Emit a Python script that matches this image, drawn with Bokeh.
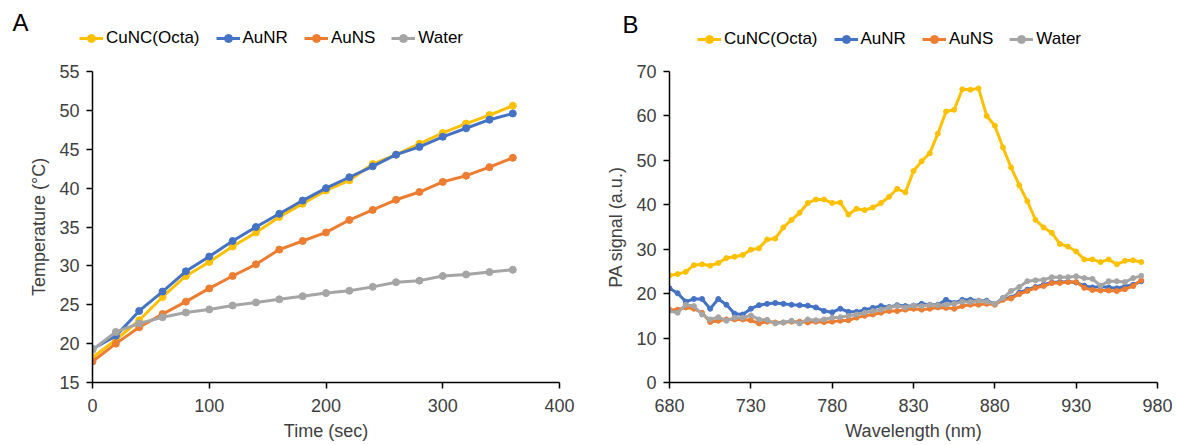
from bokeh.plotting import figure
from bokeh.models import Range1d, Legend, LegendItem, Label, FixedTicker
from bokeh.layouts import row, column
from bokeh.embed import file_html
from bokeh.resources import INLINE

# ---------------- data ----------------
series_names = ["CuNC(Octa)", "AuNR", "AuNS", "Water"]
colors = ["#FFC000", "#4472C4", "#ED7D31", "#A5A5A5"]

time_sec = [0, 20, 40, 60, 80, 100, 120, 140, 160, 180, 200, 220, 240, 260, 280, 300, 320, 340, 360]
temp_cunc = [18.2, 20.5, 23.0, 26.0, 28.7, 30.5, 32.5, 34.3, 36.3, 38.0, 39.7, 41.0, 43.1, 44.3, 45.7, 47.1, 48.3, 49.4, 50.6]
temp_aunr = [19.3, 21.0, 24.2, 26.7, 29.3, 31.2, 33.2, 35.0, 36.7, 38.4, 40.0, 41.4, 42.8, 44.3, 45.3, 46.6, 47.7, 48.8, 49.6]
temp_auns = [17.7, 20.0, 22.1, 23.8, 25.4, 27.1, 28.7, 30.2, 32.1, 33.2, 34.3, 35.9, 37.2, 38.5, 39.5, 40.8, 41.6, 42.7, 43.9]
temp_water = [19.2, 21.5, 22.6, 23.4, 24.0, 24.4, 24.9, 25.3, 25.7, 26.1, 26.5, 26.8, 27.3, 27.9, 28.1, 28.7, 28.9, 29.2, 29.5]

wavelength = list(range(680, 975, 5))
pa_cunc = [24.1, 24.4, 24.9, 26.4, 26.6, 26.3, 26.9, 28.0, 28.3, 28.7, 29.9, 30.2, 32.2, 32.4, 34.9,
           36.6, 38.2, 40.4, 41.2, 41.2, 40.4, 40.5, 37.8, 39.1, 38.8, 39.4, 40.4, 41.8, 43.6, 42.8,
           47.6, 49.8, 51.6, 56.0, 61.0, 61.4, 66.0, 65.9, 66.2, 60.0, 57.8, 52.9, 48.4, 44.4, 40.8,
           36.6, 34.9, 33.7, 31.2, 30.6, 29.5, 27.7, 27.7, 27.1, 27.7, 26.6, 27.4, 27.5, 27.1]
pa_aunr = [21.2, 20.1, 18.2, 18.8, 18.8, 16.6, 18.8, 17.5, 15.5, 15.3, 16.6, 17.4, 17.7, 17.9, 17.7,
           17.5, 17.4, 17.3, 16.9, 16.1, 15.8, 16.6, 15.9, 15.9, 16.4, 16.8, 17.2, 17.0, 17.4, 17.2,
           17.3, 17.7, 17.5, 17.5, 18.6, 17.9, 18.6, 18.6, 18.4, 18.4, 17.7, 19.0, 19.1, 20.2, 20.9,
           21.5, 22.0, 22.5, 22.6, 22.7, 22.5, 21.8, 21.4, 21.6, 21.4, 21.2, 21.6, 22.0, 22.8]
pa_auns = [16.4, 16.4, 16.9, 16.6, 15.7, 13.6, 13.9, 14.2, 14.2, 14.2, 14.0, 13.3, 13.7, 13.5, 13.5,
           13.7, 13.7, 13.5, 13.7, 13.6, 13.7, 13.9, 14.0, 14.6, 15.0, 15.3, 15.7, 16.1, 16.1, 16.4,
           16.6, 16.4, 16.6, 16.9, 16.8, 16.6, 17.2, 17.5, 17.5, 17.7, 17.5, 18.6, 18.9, 19.9, 20.6,
           21.3, 21.7, 22.4, 22.4, 22.6, 22.6, 21.3, 20.8, 20.7, 20.7, 20.6, 21.0, 21.7, 23.0]
pa_water = [16.1, 15.7, 17.5, 17.2, 15.3, 14.2, 14.7, 13.9, 14.6, 14.6, 15.1, 14.2, 14.1, 13.3, 13.5,
            13.9, 13.3, 14.2, 14.0, 14.2, 14.6, 14.7, 15.0, 15.3, 15.7, 16.1, 16.4, 16.9, 17.2, 16.9,
            17.3, 17.2, 17.5, 17.4, 17.5, 17.7, 18.2, 18.1, 18.4, 18.2, 17.7, 19.0, 20.6, 21.5, 22.8,
            23.0, 23.1, 23.7, 23.7, 23.7, 23.9, 23.5, 23.3, 21.8, 22.8, 22.8, 22.6, 23.5, 24.0]

x_ticks_a = [0, 100, 200, 300, 400]
y_ticks_a = [15, 20, 25, 30, 35, 40, 45, 50, 55]
x_ticks_b = [680, 730, 780, 830, 880, 930, 980]
y_ticks_b = [0, 10, 20, 30, 40, 50, 60, 70]

FONT = "Liberation Sans"
TXT = "#404040"
W = 1177
HEADER_H = 50


def style_axes(p):
    for ax in (p.xaxis[0], p.yaxis[0]):
        ax.axis_line_color = "black"
        ax.axis_line_width = 1.5
        ax.major_tick_line_color = "black"
        ax.major_tick_line_width = 1.5
        ax.major_tick_out = 6
        ax.major_tick_in = 0
        ax.minor_tick_line_color = None
        ax.major_label_text_font = FONT
        ax.major_label_text_font_size = "18px"
        ax.major_label_text_color = TXT
        ax.axis_label_text_font = FONT
        ax.axis_label_text_font_size = "18px"
        ax.axis_label_text_font_style = "normal"
        ax.axis_label_text_color = TXT
    p.xaxis.major_label_standoff = 10
    p.yaxis.major_label_standoff = 7
    p.xaxis.axis_label_standoff = 6
    p.yaxis.axis_label_standoff = 7
    p.xgrid.visible = False
    p.ygrid.visible = False
    p.outline_line_color = None


def make_panel(xs, ys_list, lw, ms, x_rng, y_rng, xt, yt, xlabel, ylabel,
               width, height, bl, br, bt, bb):
    p = figure(width=width, height=height, output_backend="svg", toolbar_location=None,
               x_range=Range1d(*x_rng), y_range=Range1d(*y_rng),
               min_border_left=bl, min_border_right=br, min_border_top=bt, min_border_bottom=bb)
    p.xaxis.ticker = FixedTicker(ticks=xt)
    p.yaxis.ticker = FixedTicker(ticks=yt)
    p.xaxis.axis_label = xlabel
    p.yaxis.axis_label = ylabel
    style_axes(p)
    for col, ys in zip(colors, ys_list):
        p.line(xs, ys, line_color=col, line_width=lw)
        p.scatter(xs, ys, size=ms, fill_color=col, line_color=col)
    return p


PANEL_H = 445 - HEADER_H
pa = make_panel(time_sec, [temp_cunc, temp_aunr, temp_auns, temp_water], 3, 7,
                (0, 400), (15, 55), x_ticks_a, y_ticks_a, "Time (sec)", "Temperature (°C)",
                590, PANEL_H, 92, 31, 71 - HEADER_H, 63)
pb = make_panel(wavelength, [pa_cunc, pa_aunr, pa_auns, pa_water], 3, 5,
                (680, 980), (0, 70), x_ticks_b, y_ticks_b, "Wavelength (nm)", "PA signal (a.u.)",
                587, PANEL_H, 79, 20, 61 - HEADER_H, 63)

# ---------------- header: panel letters and legends ----------------
hdr = figure(width=W, height=HEADER_H, output_backend="svg", toolbar_location=None,
             x_range=Range1d(0, 1), y_range=Range1d(0, 1),
             x_axis_type=None, y_axis_type=None,
             min_border_left=0, min_border_right=0, min_border_top=0, min_border_bottom=0)
hdr.xgrid.visible = False
hdr.ygrid.visible = False
hdr.outline_line_color = None

# legend-only renderers (a single undefined point, nothing is drawn in the plot area)
NAN = [float("nan")]
items = []
for name, col in zip(series_names, colors):
    ln = hdr.line(x=NAN, y=NAN, line_color=col, line_width=3)
    sc = hdr.scatter(x=NAN, y=NAN, size=6, fill_color=col, line_color=col)
    items.append((name, [ln, sc]))


def add_legend(x, y):
    leg = Legend(items=[LegendItem(label=n, renderers=r) for n, r in items],
                 orientation="horizontal", location=(x, y),
                 border_line_color=None, background_fill_alpha=0, padding=0, margin=0,
                 spacing=16, label_standoff=3, glyph_width=24, glyph_height=20,
                 label_height=20, label_text_font=FONT, label_text_font_size="17px",
                 label_text_color="black")
    hdr.add_layout(leg, "center")


add_legend(79, 2)
add_legend(697, 1)

for letter, lx, ly in (("A", 12, 15), ("B", 622, 13)):
    hdr.add_layout(Label(x=lx, y=ly, x_units="screen", y_units="screen", text=letter,
                         text_font=FONT, text_font_size="24px", text_color="black"))

layout = column(hdr, row(pa, pb, spacing=0), spacing=0)
open("out.html", "w").write(file_html(layout, INLINE))
